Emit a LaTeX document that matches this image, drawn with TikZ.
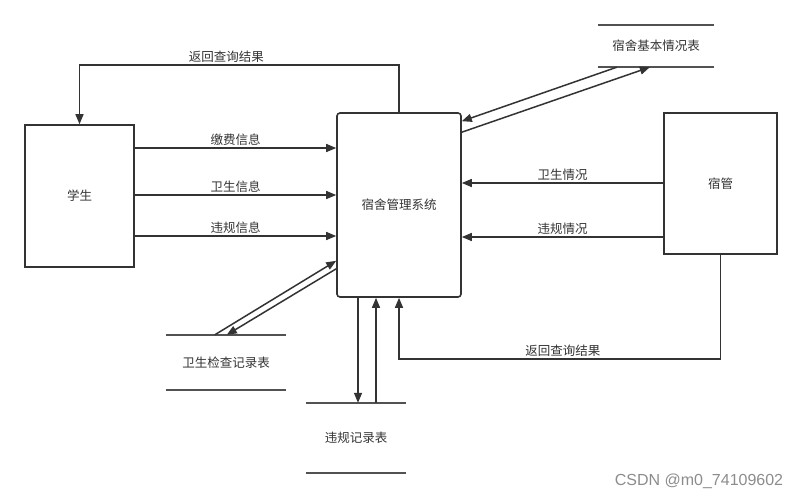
\documentclass[tikz,border=0pt]{standalone}
\usepackage{fontspec}
\newfontfamily\cjk{Noto Sans CJK SC}
\setmainfont{Liberation Sans}
\usetikzlibrary{arrows.meta,calc}
\definecolor{ink}{HTML}{333333}
\tikzset{
  box/.style={draw=ink, line width=1.6pt, align=center, font=\cjk\fontsize{12.5}{14}\selectfont, text=ink},
  sysbox/.style={box, rounded corners=3pt},
  store/.style={align=center, font=\cjk\fontsize{12.5}{14}\selectfont, text=ink, inner sep=0pt},
  storeline/.style={draw=ink!85, line width=1.8pt},
  arr/.style={-{Triangle[length=10pt,width=8pt]}, draw=ink, line width=1.5pt},
  lbl/.style={font=\cjk\fontsize{12.5}{14}\selectfont, text=ink, inner sep=2pt}}

\begin{document}
\begin{tikzpicture}[x=1pt, y=-1pt]
  \useasboundingbox (0,0) rectangle (802,498);
  \node[box, minimum width=109pt, minimum height=142pt] (student) at (79.5,196) {学生};
  \node[sysbox, minimum width=124pt, minimum height=184pt] (sys) at (399,205) {宿舍管理系统};
  \node[box, minimum width=113pt, minimum height=141pt] (keeper) at (720.5,183.5) {宿管};
  \node[store, minimum width=116pt, minimum height=42pt] (basic) at (656,46) {宿舍基本情况表};
  \node[store, minimum width=120pt, minimum height=55pt] (hygiene) at (226,362.5) {卫生检查记录表};
  \node[store, minimum width=100pt, minimum height=70pt] (violate) at (356,438) {违规记录表};
  \draw[storeline] (basic.north west) -- (basic.north east) (basic.south west) -- (basic.south east);
  \draw[storeline] (hygiene.north west) -- (hygiene.north east) (hygiene.south west) -- (hygiene.south east);
  \draw[storeline] (violate.north west) -- (violate.north east) (violate.south west) -- (violate.south east);
  % student <-> system
  \draw[arr] (sys.north) -- (sys.north |- 0,65) -| node[lbl, pos=0.27, above] {返回查询结果} (student.north);
  \draw[arr] (student.east |- 0,148) -- node[lbl, above] {缴费信息} (sys.west |- 0,148);
  \draw[arr] (student.east |- 0,195) -- node[lbl, above] {卫生信息} (sys.west |- 0,195);
  \draw[arr] (student.east |- 0,236) -- node[lbl, above] {违规信息} (sys.west |- 0,236);
  % stores
  \draw[arr] ([xshift=19pt]basic.south west) -- ([yshift=-9pt]sys.north east);
  \draw[arr] ([yshift=-20pt]sys.north east) -- ([xshift=52pt]basic.south west);
  \draw[arr] ([xshift=49pt]hygiene.north west) -- ([yshift=37pt]sys.south west);
  \draw[arr] ([yshift=29pt]sys.south west) -- ([xshift=61pt]hygiene.north west);
  \draw[arr] ([xshift=-41pt]sys.south) -- ([xshift=-41pt]sys.south |- violate.north);
  \draw[arr] ([xshift=-23pt]sys.south |- violate.north) -- ([xshift=-23pt]sys.south);
  % keeper -> system
  \draw[arr] (keeper.west |- 0,183) -- node[lbl, above] {卫生情况} (sys.east |- 0,183);
  \draw[arr] (keeper.west |- 0,237) -- node[lbl, above] {违规情况} (sys.east |- 0,237);
  \draw[arr] (keeper.south) -- (keeper.south |- 0,359) -| node[lbl, pos=0.245, above] {返回查询结果} (sys.south);
  \node[font=\fontsize{16}{18}\selectfont, text=black!45] (mark) at (699,481) {CSDN @m0\_74109602};
\end{tikzpicture}
\end{document}
